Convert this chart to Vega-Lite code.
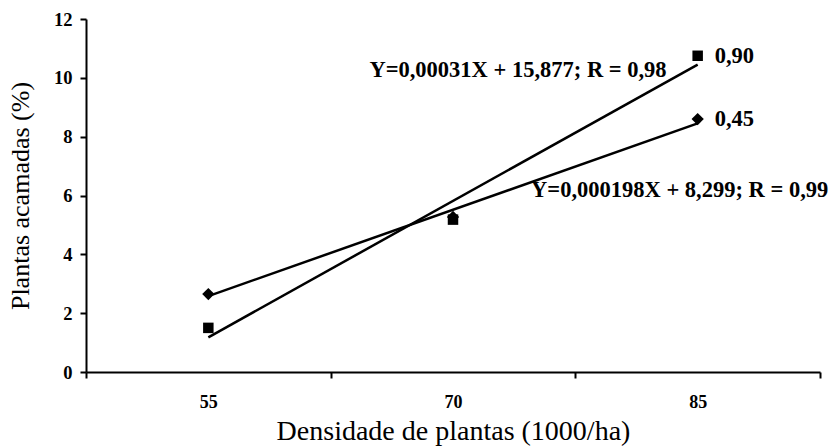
{
  "$schema": "https://vega.github.io/schema/vega-lite/v6.json",
  "width": 734,
  "height": 353,
  "autosize": {"type": "none"},
  "padding": {"left": 86, "top": 19, "right": 12, "bottom": 74},
  "background": "white",
  "config": {
    "view": {"stroke": null},
    "font": "Times New Roman",
    "axis": {"titleFont": "Times New Roman", "labelFont": "Times New Roman"},
    "text": {"font": "Times New Roman"}
  },
  "datasets": {
    "pts": [
      {"dens": "55", "serie": "quadrado", "val": 1.5},
      {"dens": "70", "serie": "quadrado", "val": 5.18},
      {"dens": "85", "serie": "quadrado", "val": 10.75},
      {"dens": "55", "serie": "losango", "val": 2.65},
      {"dens": "70", "serie": "losango", "val": 5.27},
      {"dens": "85", "serie": "losango", "val": 8.6}
    ],
    "trend": [
      {"dens": "55", "serie": "quadrado", "val": 1.18},
      {"dens": "85", "serie": "quadrado", "val": 10.45},
      {"dens": "55", "serie": "losango", "val": 2.58},
      {"dens": "85", "serie": "losango", "val": 8.45}
    ],
    "eq1": [
      {"dens": "70", "val": 10.27, "label": "Y=0,00031X + 15,877; R = 0,98"}
    ],
    "eq2": [
      {"dens": "85", "val": 6.19, "label": "Y=0,000198X + 8,299; R = 0,99"}
    ],
    "endlab": [
      {"dens": "85", "val": 10.75, "label": "0,90"},
      {"dens": "85", "val": 8.6, "label": "0,45"}
    ]
  },
  "encoding": {
    "x": {
      "field": "dens",
      "type": "ordinal",
      "sort": ["55", "70", "85"],
      "scale": {"type": "band", "domain": ["55", "70", "85"], "paddingInner": 0, "paddingOuter": 0},
      "axis": {
        "title": "Densidade de plantas (1000/ha)",
        "titleFont": "Times New Roman",
        "titleFontSize": 28,
        "titleFontWeight": "normal",
        "titleColor": "black",
        "titlePadding": 6,
        "labelAngle": 0,
        "labelFont": "Times New Roman",
        "labelFontSize": 18,
        "labelFontWeight": "bold",
        "labelColor": "black",
        "labelPadding": 15,
        "tickBand": "extent",
        "tickSize": 6,
        "tickWidth": 2,
        "tickColor": "black",
        "domainColor": "black",
        "domainWidth": 2,
        "grid": false
      }
    },
    "y": {
      "field": "val",
      "type": "quantitative",
      "scale": {"domain": [0, 12], "nice": false},
      "axis": {
        "title": "Plantas acamadas (%)",
        "titleFont": "Times New Roman",
        "titleFontSize": 26,
        "titleFontWeight": "normal",
        "titleColor": "black",
        "titlePadding": 20,
        "values": [0, 2, 4, 6, 8, 10, 12],
        "labelFont": "Times New Roman",
        "labelFontSize": 18.5,
        "labelFontWeight": "bold",
        "labelColor": "black",
        "labelPadding": 8,
        "tickSize": 6,
        "tickWidth": 2,
        "tickColor": "black",
        "domainColor": "black",
        "domainWidth": 2,
        "grid": false
      }
    }
  },
  "layer": [
    {
      "data": {"name": "trend"},
      "mark": {"type": "line", "color": "black", "strokeWidth": 2.5},
      "encoding": {"detail": {"field": "serie"}}
    },
    {
      "data": {"name": "pts"},
      "transform": [{"filter": "datum.serie === 'losango'"}],
      "mark": {"type": "point", "shape": "diamond", "filled": true, "color": "black", "size": 150, "opacity": 1}
    },
    {
      "data": {"name": "pts"},
      "transform": [{"filter": "datum.serie === 'quadrado'"}],
      "mark": {"type": "point", "shape": "square", "filled": true, "color": "black", "size": 110, "opacity": 1}
    },
    {
      "data": {"name": "eq1"},
      "mark": {"type": "text", "font": "Times New Roman", "fontSize": 22.5, "fontWeight": "bold", "color": "black", "align": "center", "baseline": "middle", "dx": 65},
      "encoding": {"text": {"field": "label"}}
    },
    {
      "data": {"name": "eq2"},
      "mark": {"type": "text", "font": "Times New Roman", "fontSize": 22.5, "fontWeight": "bold", "color": "black", "align": "center", "baseline": "middle", "dx": -18},
      "encoding": {"text": {"field": "label"}}
    },
    {
      "data": {"name": "endlab"},
      "mark": {"type": "text", "font": "Times New Roman", "fontSize": 22.5, "fontWeight": "bold", "color": "black", "align": "left", "baseline": "middle", "dx": 17},
      "encoding": {"text": {"field": "label"}}
    }
  ]
}
